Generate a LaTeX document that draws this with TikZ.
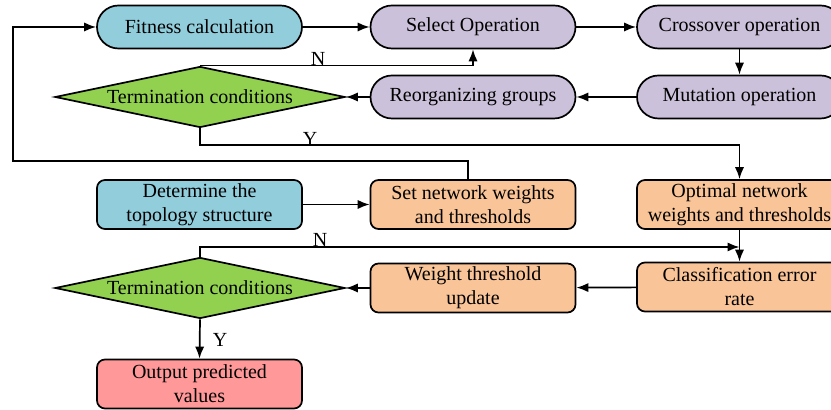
\documentclass[tikz,border=0pt]{standalone}
\usepackage{fontspec}
\setmainfont{Liberation Serif}
\usetikzlibrary{shapes, arrows.meta}
\tikzset{>={Latex[length=6pt,width=4.6pt]}}
\definecolor{myblue}{RGB}{146, 205, 220}
\definecolor{mypurple}{RGB}{204, 193, 218}
\definecolor{myorange}{RGB}{249, 196, 152}
\definecolor{mygreen}{RGB}{146, 208, 80}
\definecolor{mypink}{RGB}{255, 153, 153}
\tikzset{
  box/.style = {draw, line width = 0.85pt, minimum width = 102.5pt, align = center, inner sep = 1pt, font = \fontsize{10}{12}\selectfont},
  oval/.style = {box, rounded corners = 10.75pt, minimum height = 21.5pt},
  rbox/.style = {box, rounded corners = 4pt, minimum height = 24.5pt},
  cond/.style = {draw, line width = 0.85pt, diamond, aspect = 4.75, minimum width = 145pt, minimum height = 30.5pt, inner sep = 0pt, fill = mygreen, font = \fontsize{10}{12}\selectfont},
  conn/.style = {line width = 0.85pt},
  lbl/.style = {inner sep = 0pt, font = \fontsize{10}{12}\selectfont}
}

\begin{document}
\begin{tikzpicture}[x = 0.5pt, y = -0.5pt]
\useasboundingbox (0,0) rectangle (831,410);
\clip (0,0) rectangle (831,410);
\node[oval, fill = myblue] (fit) at (199.5, 27) {Fitness calculation};
\node[oval, fill = mypurple] (sel) at (473, 27) {Select Operation};
\node[oval, fill = mypurple] (cross) at (739.5, 27) {Crossover operation};
\node[cond] (term1) at (200, 97) {Termination conditions};
\node[oval, fill = mypurple] (reorg) at (473, 97) {Reorganizing groups};
\node[oval, fill = mypurple] (mut) at (739.5, 97) {Mutation operation};
\node[rbox, fill = myblue] (topo) at (199.5, 204.5) {Determine the\\topology structure};
\node[rbox, fill = myorange] (setw) at (473, 204.5) {Set network weights\\and thresholds};
\node[rbox, fill = myorange] (opt) at (739.5, 204.5) {Optimal network\\weights and thresholds};
\node[cond] (term2) at (200, 288) {Termination conditions};
\node[rbox, fill = myorange] (wtu) at (473, 288) {Weight threshold\\update};
\node[rbox, fill = myorange] (cls) at (739.5, 287) {Classification error\\rate};
\node[rbox, fill = mypink] (out) at (199.5, 384) {Output predicted\\values};
\coordinate (fbk) at (13, 161);
\coordinate (n2end) at (739.5, 247);
\draw[conn, ->] (fit) -- (sel);
\draw[conn, ->] (sel) -- (cross);
\draw[conn, ->] (cross) -- (mut);
\draw[conn, ->] (mut) -- (reorg);
\draw[conn, ->] (reorg) -- (term1.east);
\draw[conn, ->] (term1.north) -| (sel.south);
\draw[conn, ->] (term1.south) -- ++(0,17) -| (opt.north);
\draw[conn, ->] ([xshift = -2.5pt]setw.north) |- (fbk) |- (fit.west);
\draw[conn, ->] (topo) -- (setw);
\draw[conn, ->] (opt) -- (cls);
\draw[conn, ->] (term2.north) |- (n2end);
\draw[conn, ->] (cls) -- (wtu);
\draw[conn, ->] (wtu) -- (term2.east);
\draw[conn, ->] (term2.south) -- (out.north);
\node[lbl] (n1) at (318, 59) {N};
\node[lbl] (y1) at (310, 139) {Y};
\node[lbl] (n2) at (320, 240) {N};
\node[lbl] (y2) at (220, 340) {Y};
\end{tikzpicture}
\end{document}
